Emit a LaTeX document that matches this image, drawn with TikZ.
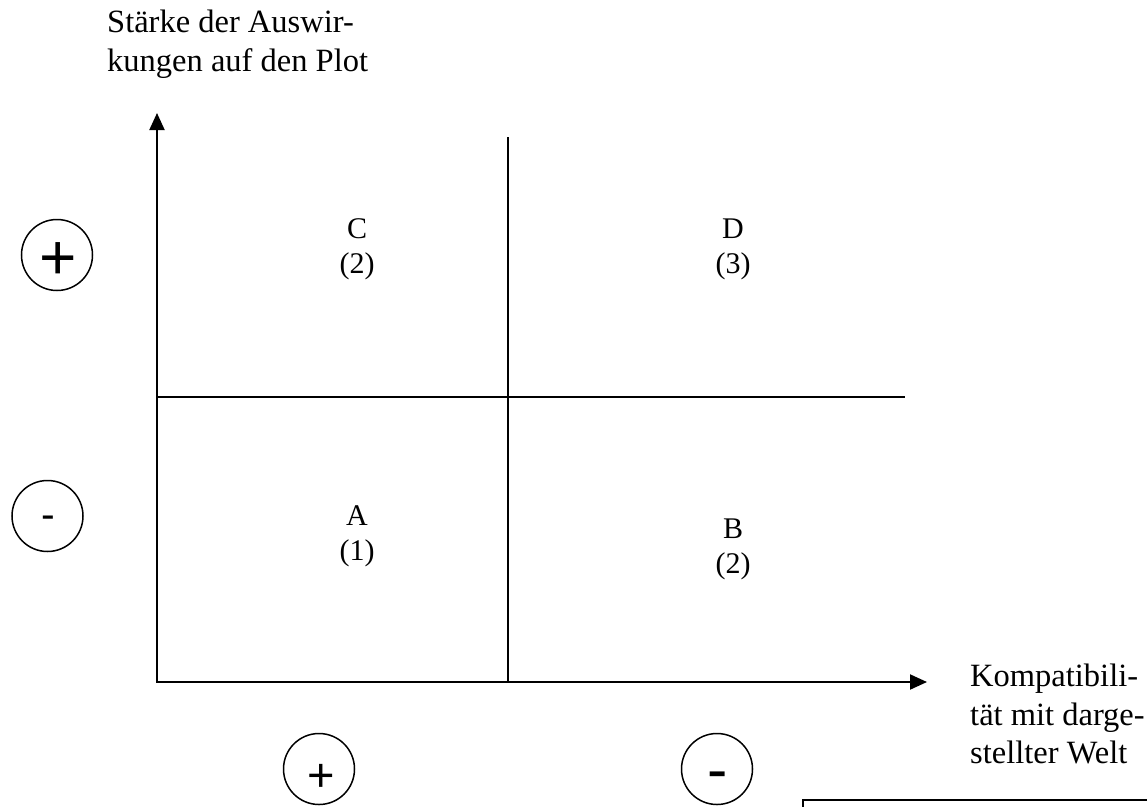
\documentclass[tikz,border=0pt]{standalone}
\usepackage{fontspec}
\setmainfont{Liberation Serif}
\newfontfamily\signfont{Liberation Sans}
\usetikzlibrary{arrows.meta}
\begin{document}
\begin{tikzpicture}[x=1pt,y=-1pt,
  axis/.style={line width=2pt,{Triangle[width=15pt,length=17pt]}-{Triangle[width=15pt,length=17pt]}},
  divider/.style={line width=1.8pt},
  signcircle/.style={draw,circle,line width=1.5pt,minimum size=71pt,inner sep=0pt},
  sign/.style={inner sep=0pt,anchor=base},
  quad/.style={align=center,font=\fontsize{30}{35}\selectfont,inner sep=0pt},
  axislabel/.style={align=left,font=\fontsize{32.5}{38.5}\selectfont,inner sep=0pt,anchor=north west}]
\useasboundingbox (0,0) rectangle (1147,806);
\clip (0,0) rectangle (1147,806);
% axes and dividers
\coordinate (O) at (157,682);
\coordinate (ytip) at (157,113);
\coordinate (xtip) at (927,682);
\coordinate (vtop) at (508,137);
\coordinate (vbot) at (508,682);
\coordinate (hleft) at (157,397);
\coordinate (hright) at (905,397);
\draw[divider] (vtop) -- (vbot);
\draw[divider] (hleft) -- (hright);
\draw[axis] (ytip) -- (O) -- (xtip);
% axis labels
\node[axislabel] (ylab) at (107,10) {Stärke der Auswir-\\kungen auf den Plot};
\node[axislabel] (xlab) at (970,664) {Kompatibili-\\tät mit darge-\\stellter Welt};
% quadrant labels
\node[quad] (qC) at (357,249) {C\\(2)};
\node[quad] (qD) at (733,249) {D\\(3)};
\node[quad] (qA) at (357,536) {A\\(1)};
\node[quad] (qB) at (733,549) {B\\(2)};
% sign circles
\node[signcircle] (cLp) at (57,255) {};
\node[sign,font=\signfont\fontsize{64}{64}\selectfont] (sLp) at (58,279.6) {+};
\node[signcircle] (cLm) at (47.5,516) {};
\node[sign,font=\signfont\fontsize{41}{41}\selectfont] (sLm) at (48,528) {-};
\node[signcircle] (cBp) at (319,769) {};
\node[sign,font=\signfont\fontsize{47}{47}\selectfont] (sBp) at (321.5,791.6) {+};
\node[signcircle] (cBm) at (717,769) {};
\node[sign,font=\signfont\fontsize{61}{61}\selectfont] (sBm) at (717.5,790.5) {-};
% box at bottom right
\draw[line width=1.8pt] (803,800) rectangle (1170,840);
\end{tikzpicture}
\end{document}
